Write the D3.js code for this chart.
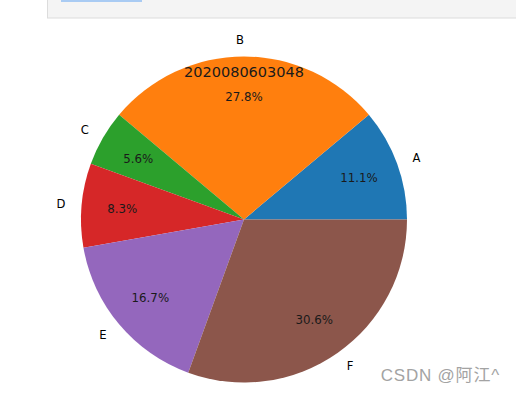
<!DOCTYPE html>
<html>
<head>
<meta charset="utf-8">
<script src="https://cdn.jsdelivr.net/npm/d3@7"></script>
<style>
  body { margin: 0; background: #fff; }
  svg { display: block; }
</style>
</head>
<body>
<svg id="chart" width="516" height="394"></svg>
<script>
const labels = ["A", "B", "C", "D", "E", "F"];
const values = [4, 10, 2, 3, 6, 11];
const colors = ["#1f77b4", "#ff7f0e", "#2ca02c", "#d62728", "#9467bd", "#8c564b"];
const title = "2020080603048";

const svg = d3.select("#chart"),
  cx = 244, cy = 219.5, r = 163;

// notebook cell box at the top
svg.append("rect").attr("x", 47.5).attr("y", -1).attr("width", 480).attr("height", 19)
  .attr("fill", "#f4f4f4").attr("stroke", "#dcdcdc");
svg.append("rect").attr("x", 61).attr("y", 0).attr("width", 81).attr("height", 2)
  .attr("fill", "#a9cbf3");

const total = d3.sum(values);

// counter-clockwise from 3 o'clock, like matplotlib
const pie = d3.pie().sort(null).value(d => d)
  .startAngle(Math.PI / 2).endAngle(Math.PI / 2 - 2 * Math.PI);
const arcs = pie(values);
const arc = d3.arc().innerRadius(0).outerRadius(r);

const g = svg.append("g").attr("transform", "translate(" + cx + "," + cy + ")");

g.selectAll("path")
  .data(arcs)
  .join("path")
  .attr("fill", (d, i) => colors[i])
  .attr("d", arc);

function mid(d) {
  return (d.startAngle + d.endAngle) / 2;
}

// category labels at 1.1r (left aligned only when clearly on the right)
g.selectAll("text.lab")
  .data(arcs)
  .join("text")
  .attr("class", "lab")
  .attr("x", d => 1.1 * r * Math.sin(mid(d)))
  .attr("y", d => -1.1 * r * Math.cos(mid(d)))
  .attr("dy", "0.35em")
  .attr("text-anchor", d => Math.sin(mid(d)) > 0.01 ? "start" : "end")
  .attr("font-family", "DejaVu Sans")
  .attr("font-size", 11.6)
  .attr("fill", "#000")
  .text((d, i) => labels[i]);

// percentages at 0.75r
g.selectAll("text.pct")
  .data(arcs)
  .join("text")
  .attr("class", "pct")
  .attr("x", d => 0.75 * r * Math.sin(mid(d)))
  .attr("y", d => -0.75 * r * Math.cos(mid(d)))
  .attr("dy", "0.35em")
  .attr("text-anchor", "middle")
  .attr("font-family", "DejaVu Sans")
  .attr("font-size", 11.8)
  .attr("fill", "#1a1a1a")
  .text(d => (d.value / total * 100).toFixed(1) + "%");

svg.append("text")
  .attr("x", cx).attr("y", 77)
  .attr("text-anchor", "middle")
  .attr("font-family", "DejaVu Sans")
  .attr("font-size", 14.5)
  .attr("fill", "#1a1a1a")
  .text(title);

// watermark
svg.append("text")
  .attr("x", 500).attr("y", 381)
  .attr("text-anchor", "end")
  .attr("font-family", "Liberation Sans, Noto Sans CJK SC, sans-serif")
  .attr("font-size", 17)
  .attr("letter-spacing", 0.8)
  .attr("fill", "#a3a3a3")
  .text("CSDN @阿江^");
</script>
</body>
</html>
